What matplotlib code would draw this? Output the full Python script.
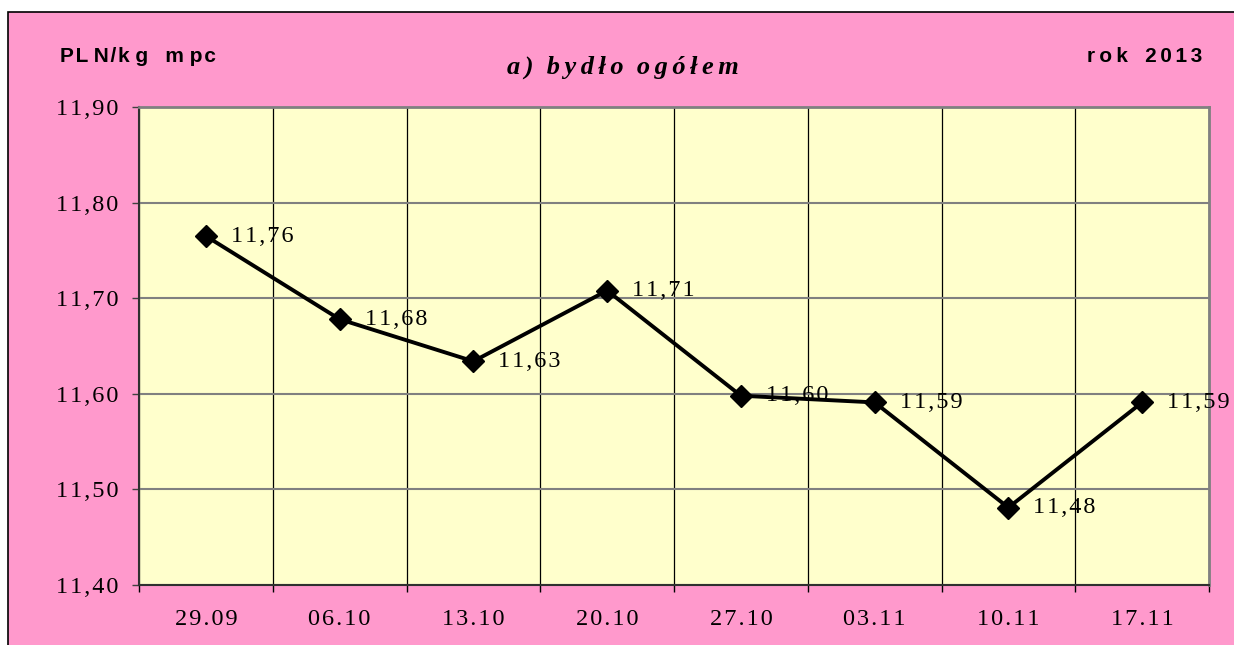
import numpy as np
import matplotlib.pyplot as plt
from matplotlib.patches import Rectangle

# data
dates = ['29.09', '06.10', '13.10', '20.10', '27.10', '03.11', '10.11', '17.11']
prices = [11.765, 11.678, 11.634, 11.708, 11.598, 11.591, 11.481, 11.591]
price_labels = ['11,76', '11,68', '11,63', '11,71', '11,60', '11,59', '11,48', '11,59']
yticks = [11.40, 11.50, 11.60, 11.70, 11.80, 11.90]

pink = '#FF99CC'
cream = '#FFFFCC'
HS = '\u200a'  # hair space
TS = '\u2009'  # thin space
serif = ['Liberation Serif', 'DejaVu Serif']
sans = ['Liberation Sans', 'DejaVu Sans']


def spaced(s, sep=HS):
    return sep.join(s)


fig = plt.figure(figsize=(12.34, 6.45), dpi=100)
fig.patch.set_facecolor('white')
fig.patches.append(Rectangle((8 / 1234, -0.02), 1.05, 1.02 - 12 / 645, transform=fig.transFigure,
                             facecolor=pink, edgecolor='black', linewidth=1.2, zorder=-1))

ax = fig.add_axes([139 / 1234, 1 - 585 / 645, (1209 - 139) / 1234, (585 - 107) / 645])
ax.set_facecolor(cream)

x = np.arange(len(dates))
ax.plot(x, prices, color='black', linewidth=2.8, marker='D', markersize=11, zorder=3)
for xi, yi, lab in zip(x, prices, price_labels):
    ax.annotate(spaced(lab), (xi, yi), xytext=(18, 0), textcoords='offset points',
                ha='left', va='center', fontsize=17.5, family=serif, zorder=4)

ax.set_xlim(-0.5, len(dates) - 0.5)
ax.set_ylim(11.40, 11.90)

ax.set_yticks(yticks)
ax.set_yticklabels([spaced(f'{v:.2f}'.replace('.', ',')) for v in yticks],
                   family=serif, fontsize=17.5)
ax.tick_params(axis='y', length=5, width=1, color='#404040', pad=10)

ax.set_xticks(np.arange(len(dates) + 1) - 0.5)
ax.set_xticklabels([])
ax.set_xticks(x, minor=True)
ax.set_xticklabels([spaced(d) for d in dates], minor=True, family=serif, fontsize=17.5)
ax.tick_params(axis='x', which='major', length=5, width=1, color='black')
ax.tick_params(axis='x', which='minor', length=0, pad=17)

ax.grid(axis='y', color='#808080', linewidth=1.5, zorder=1)
ax.grid(axis='x', which='major', color='black', linewidth=0.9, zorder=1)
ax.set_axisbelow(True)

for side in ['top', 'right']:
    ax.spines[side].set_color('#808080')
    ax.spines[side].set_linewidth(2)
for side in ['left', 'bottom']:
    ax.spines[side].set_color('#303030')
    ax.spines[side].set_linewidth(1.5)

fig.text(60 / 1234, 1 - 57 / 645, spaced('PL') + ' ' + spaced('N/k') + ' g   m ' + spaced('pc'),
         family=sans, fontweight='bold', fontsize=15, ha='left', va='center')
fig.text(1202 / 1234, 1 - 57 / 645, spaced('rok', TS) + '   ' + spaced('2013', HS * 2), family=sans,
         fontweight='bold', fontsize=15, ha='right', va='center')
fig.text(623 / 1234, 1 - 67 / 645,
         spaced('a)', HS * 2) + '  ' + spaced('bydło', HS * 2) + '  ' + spaced('ogółem', HS * 2),
         family=serif, fontweight='bold', fontstyle='italic', fontsize=19, ha='center', va='center')

fig.savefig('out.png', dpi=100, facecolor=fig.get_facecolor())
